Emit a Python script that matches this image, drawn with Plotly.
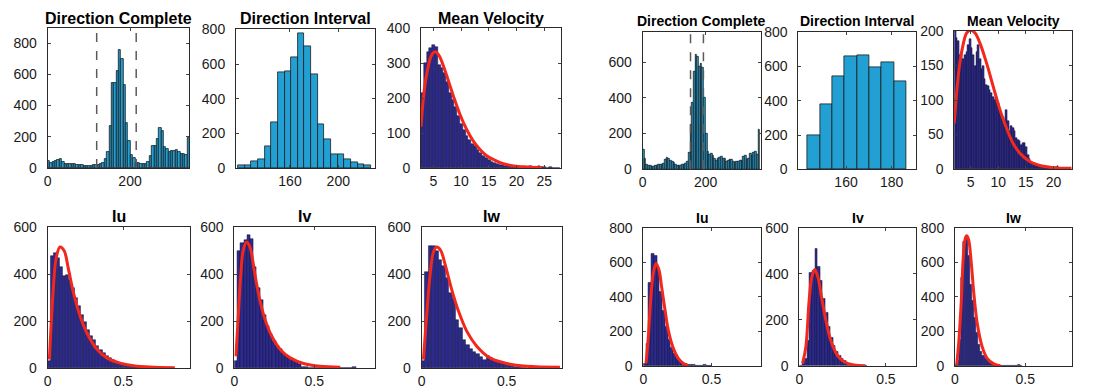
import numpy as np
import plotly.graph_objects as go

# ---------------- left data set ----------------
# direction complete: 60 bins of 5.75 deg starting at 0
dir_all_a = [43, 35, 40, 45, 50, 55, 40, 28, 27, 25, 26, 25, 22, 20, 18, 15, 14, 15, 16, 18,
             20, 22, 25, 35, 55, 100, 270, 545, 545, 620, 755, 700, 530, 290, 170, 85, 65, 35, 30, 25,
             25, 25, 40, 75, 140, 140, 185, 255, 235, 135, 120, 100, 110, 110, 115, 105, 90, 90, 85, 195]
dir_all_a_bins = (0.0, 5.75)
dir_lines_a = [119, 215]

# direction interval: 20 bins of 5.5 deg starting at 117
dir_int_a = [19, 15, 40, 52, 129, 265, 553, 560, 639, 775, 700, 539, 253, 169, 83, 83, 52, 35, 23, 19]
dir_int_a_bins = (117.0, 5.5)

# mean velocity
vel_a = [215, 300, 332, 342, 352, 345, 295, 285, 272, 245, 215, 195, 175, 148, 125, 108, 92, 80, 68, 62,
         52, 42, 34, 28, 22, 18, 14, 12, 10, 8, 7, 6, 5, 4, 4, 3, 3, 4, 4, 5, 4, 3, 5, 3, 2, 1, 2, 1, 1, 1]
vel_a_bins = (2.8, 0.5)
vel_a_fit_x = [2.77, 3.2, 3.6, 4.1, 4.6, 5.3, 6.0, 6.8, 7.4, 8.6, 9.8, 11, 12.2, 13.4, 14.6, 16.1, 17.6, 19.5, 21.9, 24.6]
vel_a_fit_y = [118, 200, 250, 292, 320, 332, 322, 292, 264, 206, 153, 110, 77, 53, 35, 22, 12, 6, 3, 1]

# turbulence intensities
iu_a = [30, 475, 490, 470, 430, 390, 395, 375, 340, 300, 265, 225, 195, 160, 135, 120, 95, 75, 62, 50,
        42, 33, 27, 22, 17, 14, 10, 8, 6, 4, 3, 2, 2, 1, 1]
iu_a_bins = (0.0, 0.02)
iu_a_fit_x = [0.011, 0.037, 0.055, 0.081, 0.108, 0.137, 0.17, 0.214, 0.258, 0.324, 0.39, 0.478, 0.566, 0.676, 0.84]
iu_a_fit_y = [36, 336, 464, 515, 500, 421, 321, 221, 150, 81, 43, 21, 10, 4, 1]

iv_a = [30, 500, 530, 545, 565, 550, 430, 340, 290, 225, 180, 145, 115, 95, 80, 65, 52, 42, 35, 30,
        15, 5, 3, 2, 0, 0, 0, 0, 0, 0, 0, 0, 0, 0, 0, 0, 0, 3]
iv_a_bins = (0.0, 0.02)
iv_a_fit_x = [0.01, 0.025, 0.04, 0.056, 0.077, 0.098, 0.13, 0.161, 0.192, 0.234, 0.287, 0.35, 0.433, 0.538, 0.663]
iv_a_fit_y = [50, 221, 393, 500, 536, 514, 393, 286, 207, 136, 79, 43, 19, 7, 3]

iw_a = [30, 410, 520, 520, 500, 460, 435, 385, 320, 295, 205, 170, 120, 100, 80, 68, 58, 45, 35, 50,
        44, 35, 25, 20, 15, 11, 8, 5, 3, 2, 1]
iw_a_bins = (0.0, 0.02)
iw_a_fit_x = [0.01, 0.029, 0.049, 0.069, 0.088, 0.112, 0.137, 0.176, 0.216, 0.265, 0.324, 0.402, 0.5, 0.618, 0.814]
iw_a_fit_y = [36, 221, 393, 493, 515, 500, 443, 336, 243, 157, 93, 43, 19, 7, 3]

# ---------------- right data set ----------------
dir_all_b = [110, 60, 25, 20, 18, 15, 15, 20, 22, 25, 25, 28, 32, 55, 65, 60, 50, 42, 38, 28,
             22, 20, 22, 25, 28, 32, 40, 95, 250, 370, 545, 640, 630, 575, 590, 570, 400, 200, 100, 80,
             90, 78, 60, 50, 58, 65, 68, 58, 62, 40, 48, 55, 52, 42, 38, 42, 45, 50, 48, 72,
             78, 55, 60, 85, 75, 95, 100, 80, 220]
dir_all_b_bins = (0.0, 5.4)
dir_lines_b = [152, 193]

dir_int_b = [198, 378, 545, 660, 668, 598, 625, 512]
dir_int_b_bins = (143.2, 5.4)

vel_b = [200, 190, 185, 165, 170, 160, 165, 170, 180, 188, 175, 165, 150, 170, 180, 160, 145, 150, 130, 122,
         120, 115, 110, 105, 100, 105, 95, 85, 80, 75, 70, 85, 70, 55, 62, 60, 55, 45, 42, 40,
         35, 38, 37, 32, 20, 15, 10, 9, 8, 6, 5, 4, 4, 3, 3, 2, 2, 2, 3, 2,
         2, 3, 5, 1, 1, 1, 1, 1, 1, 1]
vel_b_bins = (2.04, 0.3)
vel_b_fit_x = [2.04, 2.46, 2.95, 3.55, 4.27, 5.0, 5.8, 6.7, 7.9, 9.1, 10.3, 11.5, 12.7, 13.9, 15.7, 17.5, 19.9, 23.3]
vel_b_fit_y = [66, 110, 148, 177, 197, 201, 197, 182, 153, 119, 86, 59, 37, 23, 11, 5, 2, 1]

iu_b = [15, 130, 480, 650, 640, 560, 430, 320, 225, 155, 105, 70, 45, 30, 20, 14, 10, 7, 5, 3, 2, 3, 5, 4, 2]
iu_b_bins = (0.0, 0.02)
iu_b_fit_x = [0.02, 0.037, 0.054, 0.073, 0.093, 0.115, 0.134, 0.159, 0.183, 0.22, 0.256, 0.293, 0.33]
iu_b_fit_y = [15, 170, 381, 536, 593, 555, 459, 324, 208, 102, 44, 15, 2]

iv_b = [0, 8, 30, 110, 405, 415, 510, 430, 370, 290, 230, 170, 120, 85, 60, 42, 30, 20, 13, 9, 6, 4, 3, 2, 2, 1]
iv_b_bins = (0.0, 0.015)
iv_b_fit_x = [0.019, 0.038, 0.057, 0.073, 0.09, 0.109, 0.128, 0.153, 0.181, 0.219, 0.258, 0.315, 0.382]
iv_b_fit_y = [10, 83, 286, 387, 418, 380, 300, 199, 112, 46, 17, 3, 0]

iw_b = [5, 30, 150, 510, 720, 745, 640, 470, 380, 280, 190, 125, 85, 60, 40, 28, 18, 12, 8, 6,
        4, 3, 2, 0, 0, 0, 0, 0, 0, 4, 5, 3]
iw_b_bins = (0.0, 0.015)
iw_b_fit_x = [0.012, 0.028, 0.045, 0.059, 0.073, 0.083, 0.097, 0.116, 0.134, 0.158, 0.193, 0.229, 0.276, 0.323]
iw_b_fit_y = [6, 150, 381, 632, 738, 753, 730, 594, 420, 247, 112, 44, 12, 2]

W, H = 1113, 389
CYAN = '#22a0d4'
NAVY = '#2c2a8c'
RED = '#f2281c'

# panel boxes in window pixels: (left, top, right, bottom)
panels = [
    dict(title='Direction Complete', box=(47.7, 28, 189.3, 168), counts=dir_all_a, bins=dir_all_a_bins, color=CYAN,
         xr=[0, 344], xt=[0, 200], yr=[0, 896], yt=[0, 200, 400, 600, 800], lines=dir_lines_a, ty=18, ts=16),
    dict(title='Direction Interval', box=(236, 29.3, 375, 168.3), counts=dir_int_a, bins=dir_int_a_bins, color=CYAN,
         xr=[115.3, 230.4], xt=[160, 200], yr=[0, 800], yt=[0, 200, 400, 600, 800], ty=18, ts=16),
    dict(title='Mean Velocity', box=(421, 28, 561, 168), counts=vel_a, bins=vel_a_bins, color=NAVY,
         xr=[2.77, 28], xt=[5, 10, 15, 20, 25], yr=[0, 400], yt=[0, 100, 200, 300, 400],
         fit=(vel_a_fit_x, vel_a_fit_y), ty=18, ts=16),
    dict(title='Direction Complete', box=(642.7, 31.7, 760.7, 169.3), counts=dir_all_b, bins=dir_all_b_bins, color=CYAN,
         xr=[0, 375], xt=[0, 200], yr=[0, 770], yt=[0, 200, 400, 600], lines=dir_lines_b, ty=20.7, ts=14),
    dict(title='Direction Interval', box=(798.3, 32.3, 915.7, 169.3), counts=dir_int_b, bins=dir_int_b_bins, color=CYAN,
         xr=[139.1, 190.5], xt=[160, 180], yr=[0, 800], yt=[0, 200, 400, 600, 800], ty=20.7, ts=14),
    dict(title='Mean Velocity', box=(954.3, 31, 1071.7, 169), counts=vel_b, bins=vel_b_bins, color=NAVY,
         xr=[2.04, 23.3], xt=[5, 10, 15, 20], yr=[0, 200], yt=[0, 50, 100, 150, 200],
         fit=(vel_b_fit_x, vel_b_fit_y), ty=20.7, ts=14),
    dict(title='Iu', box=(47.7, 227, 190, 368), counts=iu_a, bins=iu_a_bins, color=NAVY,
         xr=[0, 0.94], xt=[0, 0.5], yr=[0, 600], yt=[0, 200, 400, 600], fit=(iu_a_fit_x, iu_a_fit_y), ty=216.7, ts=16),
    dict(title='Iv', box=(234.3, 227, 375, 368), counts=iv_a, bins=iv_a_bins, color=NAVY,
         xr=[0, 0.88], xt=[0, 0.5], yr=[0, 600], yt=[0, 200, 400, 600], fit=(iv_a_fit_x, iv_a_fit_y), ty=216.7, ts=16),
    dict(title='Iw', box=(421.7, 227, 562, 368), counts=iw_a, bins=iw_a_bins, color=NAVY,
         xr=[0, 0.826], xt=[0, 0.5], yr=[0, 600], yt=[0, 200, 400, 600], fit=(iw_a_fit_x, iw_a_fit_y), ty=216.7, ts=16),
    dict(title='Iu', box=(643.3, 227.7, 760.7, 366), counts=iu_b, bins=iu_b_bins, color=NAVY,
         xr=[0, 0.86], xt=[0, 0.5], yr=[0, 800], yt=[0, 200, 400, 600, 800], fit=(iu_b_fit_x, iu_b_fit_y), ty=218, ts=14),
    dict(title='Iv', box=(799.3, 227.7, 916, 365.7), counts=iv_b, bins=iv_b_bins, color=NAVY,
         xr=[0, 0.674], xt=[0, 0.5], yr=[0, 600], yt=[0, 200, 400, 600], fit=(iv_b_fit_x, iv_b_fit_y), ty=218, ts=14),
    dict(title='Iw', box=(955, 227.7, 1071.7, 366), counts=iw_b, bins=iw_b_bins, color=NAVY,
         xr=[0, 0.83], xt=[0, 0.5], yr=[0, 800], yt=[0, 200, 400, 600, 800], fit=(iw_b_fit_x, iw_b_fit_y), ty=218, ts=14),
]

fig = go.Figure()
layout = dict(width=W, height=H, margin=dict(l=0, r=0, t=0, b=0, pad=0, autoexpand=False), autosize=False,
              paper_bgcolor='white', plot_bgcolor='white', showlegend=False,
              bargap=0, font=dict(family='Liberation Sans, Arial', size=14, color='#1a1a1a'))
annotations = []
shapes = []

for k, p in enumerate(panels, start=1):
    xa, ya = ('x%d' % k, 'y%d' % k) if k > 1 else ('x', 'y')
    l, t, r, b = p['box']
    start, width = p['bins']
    centers = start + width * (np.arange(len(p['counts'])) + 0.5)
    dense = p['color'] == NAVY
    fig.add_trace(go.Bar(x=centers, y=p['counts'], width=width, xaxis=xa, yaxis=ya,
                         marker=dict(color=p['color'],
                                     line=dict(color='#15153a' if dense else '#1a1a1a',
                                               width=0.5 if dense else 0.8))))
    if 'fit' in p:
        fx, fy = p['fit']
        fig.add_trace(go.Scatter(x=fx, y=fy, mode='lines', line=dict(color=RED, width=3, shape='spline'),
                                 xaxis=xa, yaxis=ya))
    for xv in p.get('lines', []):
        shapes.append(dict(type='line', xref=xa, yref=ya + ' domain', x0=xv, x1=xv, y0=0, y1=1,
                           line=dict(color='#5a5a5a', width=1.5, dash='dash')))
    axis_common = dict(showline=True, linecolor='#2a2a2a', linewidth=1, mirror='ticks',
                       ticks='inside', ticklen=3, tickcolor='#444', showgrid=False, zeroline=False,
                       tickfont=dict(size=14, color='#1a1a1a'))
    layout['xaxis' + ('' if k == 1 else str(k))] = dict(
        axis_common, domain=[l / W, r / W], range=p['xr'], tickvals=p['xt'],
        anchor=ya, ticklabelstandoff=0)
    layout['yaxis' + ('' if k == 1 else str(k))] = dict(
        axis_common, domain=[1 - b / H, 1 - t / H], range=p['yr'], tickvals=p['yt'],
        anchor=xa, ticklabelstandoff=7)
    annotations.append(dict(text='<b>%s</b>' % p['title'], xref='paper', yref='paper',
                            x=(l + r) / 2 / W, y=1 - p['ty'] / H, xanchor='center', yanchor='middle',
                            showarrow=False, font=dict(size=p['ts'], color='black')))

layout['annotations'] = annotations
layout['shapes'] = shapes
fig.update_layout(**layout)
# drop the default body margin so the figure sits at the window's top-left corner
fig.write_html("out.html", config={'displayModeBar': False},
               post_script="document.body.style.margin='0';document.body.style.overflow='hidden';")
